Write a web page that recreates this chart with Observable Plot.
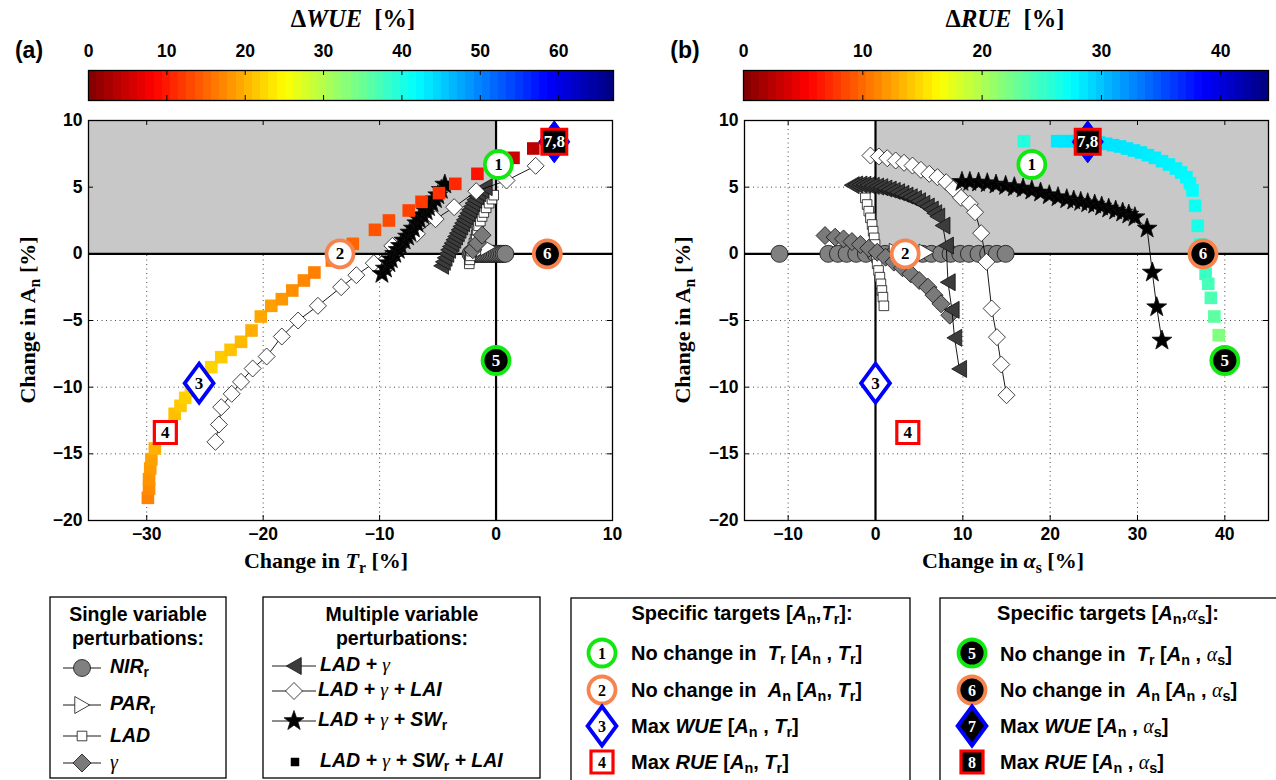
<!DOCTYPE html>
<html><head><meta charset="utf-8">
<script src="https://cdn.jsdelivr.net/npm/d3@7"></script>
<script src="https://cdn.jsdelivr.net/npm/@observablehq/plot@0.6"></script>
<style>
body{margin:0;background:#fff;}
#wrap{position:relative;width:1276px;height:780px;overflow:hidden;background:#fff;}
#wrap svg{position:absolute;}
.t{position:absolute;white-space:nowrap;line-height:1;}
.serif{font-family:"Liberation Serif","Times New Roman",serif;font-weight:bold;}
.sans{font-family:"Liberation Sans",Arial,sans-serif;font-weight:bold;}
.g{font-family:"Liberation Serif","Times New Roman",serif;font-style:italic;font-weight:normal;}
sub{font-size:72%;vertical-align:-0.3em;line-height:0;font-style:normal;}
</style></head>
<body><div id="wrap"></div>
<script>
// ================= DATA =================
const yDomain = [-20, 10];
const yTicks = [-20, -15, -10, -5, 0, 5, 10];
const xDomainA = [-35, 10];
const xTicksA = [-30, -20, -10, 0, 10];
const xDomainB = [-15, 45];
const xTicksB = [-10, 0, 10, 20, 30, 40];
const cbMaxA = 67, cbTicksA = [0, 10, 20, 30, 40, 50, 60];
const cbMaxB = 44, cbTicksB = [0, 10, 20, 30, 40];
const shadeA = [{x1: -35, x2: 0, y1: 0, y2: 10}];
const shadeB = [{x1: 0, x2: 45, y1: 0, y2: 10}];

// Panel (a): [change in Tr, change in An]
const aNIR = [[-2.2,0],[-2.05,0],[-1.9,0],[-1.75,0],[-1.6,0],[-1.45,0],[-1.3,0],[-1.15,0],[-1.0,0],[-0.85,0],[-0.7,0],[-0.55,0],[-0.4,0],[-0.25,0],[-0.1,0],[0.05,0],[0.2,0],[0.35,0],[0.5,0],[0.65,0],[0.8,0]];
const aPAR = [[-1.5,0.25],[-1.1,0.4],[-0.7,0.5]];
const aLAD = [[-2.3,-0.75],[-2.25,-0.45],[-2.2,-0.15],[-2.1,0.2],[-2.0,0.5],[-1.9,0.8],[-1.8,1.1],[-1.7,1.45],[-1.6,1.75],[-1.5,2.1],[-1.35,2.45],[-1.2,2.8],[-1.05,3.1],[-0.85,3.45],[-0.6,3.8],[-0.35,4.1],[-0.2,4.4]];
const aGAM = [[-2.0,0.3],[-1.6,0.8],[-1.2,1.4]];
const aLADG = [[-4.7,-0.9],[-4.55,-0.6],[-4.4,-0.3],[-4.25,0.0],[-4.1,0.3],[-3.95,0.55],[-3.8,0.8],[-3.65,1.05],[-3.5,1.3],[-3.35,1.55],[-3.2,1.8],[-3.05,2.05],[-2.9,2.3],[-2.75,2.55],[-2.6,2.8],[-2.45,3.05],[-2.3,3.3],[-2.15,3.55],[-2.0,3.8],[-1.85,4.05],[-1.7,4.3],[-1.5,4.55],[-1.25,4.8],[-0.95,5.0]];
const aLAI = [[-24.1,-14.1],[-23.8,-12.8],[-23.6,-11.5],[-22.7,-10.5],[-21.9,-9.6],[-20.9,-8.6],[-19.7,-7.7],[-18.4,-6.2],[-17.0,-5.0],[-15.3,-3.9],[-13.3,-2.5],[-12.0,-1.6],[-10.5,-0.7],[-8.9,0.6],[-6.8,1.5],[-5.2,2.6],[-3.6,3.5],[-1.7,4.7],[0.9,5.5],[3.4,6.6]];
const aSW = [[-9.8,-1.5],[-9.5,-1.1],[-9.2,-0.7],[-9.0,-0.4],[-8.7,0.0],[-8.4,0.3],[-8.2,0.6],[-7.9,1.0],[-7.6,1.3],[-7.4,1.6],[-7.1,1.9],[-6.8,2.3],[-6.6,2.6],[-6.3,2.9],[-6.0,3.2],[-5.8,3.5],[-5.5,3.8],[-5.2,4.1],[-5.0,4.4],[-4.7,4.8],[-4.4,5.2]];
// [change in Tr, change in An, ΔWUE]
const aALL = [[-29.9,-18.3,17],[-29.8,-17.6,17.5],[-29.8,-16.9,18],[-29.7,-16.1,18.5],[-29.6,-15.4,19],[-29.3,-14.6,20],[-28.6,-13.6,20.5],[-27.6,-12.0,21],[-27.1,-11.4,21.5],[-26.7,-10.8,22],[-26.2,-10.3,22.3],[-25.5,-9.6,22.5],[-24.45,-8.5,22.3],[-23.6,-7.75,21.8],[-22.8,-7.2,21.2],[-21.9,-6.6,20.5],[-21.0,-5.75,19.8],[-20.2,-4.7,19.3],[-19.3,-3.9,18.8],[-18.4,-3.4,18.3],[-17.5,-2.75,17.8],[-16.5,-2.0,17.3],[-15.6,-1.4,16.8],[-14.1,-0.5,16.2],[-13.3,0.1,15.7],[-12.3,0.75,15],[-10.4,1.8,13.8],[-9.2,2.5,13.2],[-7.5,3.25,12.6],[-6.4,3.9,12.1],[-4.9,4.55,11.6],[-3.5,5.25,11],[-1.6,6.0,9.5],[0.0,6.6,7.5],[1.5,7.2,5],[3.2,7.9,4],[5.0,8.4,3]];
const aTargets = [["1",0.2,6.7],["2",-13.4,0],["3",-25.5,-9.7],["4",-28.4,-13.4],["5",0,-8.0],["6",4.4,0],["7,8",5.0,8.4]];

// Panel (b): [change in albedo, change in An]
const bNIR = [[-11.0,0],[-5.4,0],[-4.3,0],[-3.3,0],[-2.2,0],[-1.1,0],[0,0],[1.1,0],[2.2,0],[3.2,0],[4.3,0],[5.4,0],[6.4,0],[7.5,0],[8.6,0],[9.7,0],[10.7,0],[11.8,0],[12.9,0],[13.9,0],[14.9,0]];
const bPAR = [[2.4,0.15],[4.1,0.12],[5.8,0.1]];
const bLAD = [[-1.16,4.2],[-0.96,3.7],[-0.77,3.2],[-0.58,2.7],[-0.39,2.2],[-0.27,1.7],[-0.15,1.2],[-0.05,0.7],[0.05,0.2],[0.12,-0.3],[0.19,-0.75],[0.35,-1.25],[0.5,-1.75],[0.62,-2.25],[0.73,-2.75],[0.85,-3.25],[0.96,-3.9]];
const bGAM = [[-5.78,1.37],[-4.62,1.25],[-3.66,1.12],[-2.7,0.92],[-1.73,0.7],[-0.77,0.42],[0.19,0.12],[1.16,-0.25],[2.1,-0.62],[3.1,-1.05],[4.05,-1.5],[5.0,-2.0],[6.0,-2.5],[6.7,-3.1],[7.5,-3.75],[8.5,-4.6]];
const bLADG = [[-2.7,5.15],[-2.3,5.2],[-1.8,5.2],[-1.35,5.18],[-0.9,5.15],[-0.4,5.1],[0.1,5.05],[0.58,5.0],[1.05,4.9],[1.54,4.82],[2.0,4.72],[2.5,4.62],[3.0,4.5],[3.47,4.37],[3.95,4.25],[4.43,4.12],[4.9,3.95],[5.4,3.75],[5.9,3.55],[6.36,3.32],[6.75,3.05],[7.1,2.8],[7.7,2.12],[8.1,0.62],[8.3,-2.13],[8.75,-4.2],[9.05,-6.3],[9.6,-8.63]];
const bLAI = [[-0.58,7.37],[0.39,7.3],[1.35,7.17],[2.31,7.0],[3.27,6.83],[4.24,6.62],[5.2,6.3],[6.16,6.0],[7.1,5.75],[8.1,5.37],[8.9,4.87],[9.8,4.2],[10.8,3.75],[11.4,3.12],[12.1,1.55],[12.7,-0.6],[13.3,-4.1],[13.9,-6.25],[14.4,-8.3],[15.0,-10.6]];
const bSW = [[9.9,5.4],[10.8,5.4],[11.8,5.35],[12.8,5.3],[13.8,5.2],[14.9,5.1],[15.9,5.0],[16.9,4.9],[17.9,4.75],[18.9,4.6],[19.9,4.4],[20.9,4.25],[21.9,4.1],[22.7,4.0],[23.5,3.9],[24.3,3.8],[25.1,3.7],[25.9,3.55],[26.7,3.4],[27.5,3.25],[28.3,3.1],[29.0,2.95],[29.7,2.75],[31.1,1.9],[31.7,-1.4],[32.2,-4.0],[32.8,-6.5]];
// [change in albedo, change in An, ΔRUE]
const bALL = [[17.0,8.45,26],[20.8,8.45,28.4],[21.6,8.45,28.5],[22.4,8.45,28.6],[23.2,8.45,28.7],[24.0,8.42,28.8],[24.8,8.4,28.8],[25.6,8.35,28.7],[26.4,8.25,28.7],[27.2,8.15,28.6],[28.0,8.05,28.6],[28.8,7.9,28.5],[29.6,7.75,28.5],[30.4,7.6,28.4],[31.2,7.4,28.3],[32.0,7.2,28.2],[32.8,6.95,28.1],[33.6,6.7,28],[34.4,6.4,27.9],[35.0,6.1,27.8],[35.6,5.75,27.7],[36.0,5.3,27.6],[36.3,4.75,27.4],[36.6,3.6,27],[36.9,2.1,26.5],[37.2,0.7,26],[37.5,-0.5,25.5],[37.8,-1.5,25],[38.1,-2.25,24.5],[38.4,-3.3,24.2],[38.8,-4.7,23.5],[39.3,-6.1,22]];
const bTargets = [["1",17.9,6.7],["2",3.4,0],["3",0,-9.7],["4",3.7,-13.4],["5",40.0,-8.0],["6",37.5,0],["7,8",24.3,8.4]];

// ================= STYLE =================
const GREEN = "#10e810", ORANGE = "#f7844f", BLUE = "#0000ff", RED = "#ff0000";
const SANS = '"Liberation Sans", Arial, sans-serif', SERIF = '"Liberation Serif", "Times New Roman", serif';
const rad = s => Math.sqrt(s / Math.PI);
const diamondSq = {draw(c, s) {const r = rad(s); c.moveTo(0,-r); c.lineTo(r,0); c.lineTo(0,r); c.lineTo(-r,0); c.closePath();}};
const diamondTall = {draw(c, s) {const r = rad(s), w = 0.74*r; c.moveTo(0,-r); c.lineTo(w,0); c.lineTo(0,r); c.lineTo(-w,0); c.closePath();}};
const triLeft = {draw(c, s) {const r = rad(s); c.moveTo(-0.9*r,0); c.lineTo(0.85*r,-r); c.lineTo(0.85*r,r); c.closePath();}};
const triRight = {draw(c, s) {const r = rad(s); c.moveTo(0.9*r,0); c.lineTo(-0.85*r,-r); c.lineTo(-0.85*r,r); c.closePath();}};
const square = {draw(c, s) {const r = rad(s); c.moveTo(-r,-r); c.lineTo(r,-r); c.lineTo(r,r); c.lineTo(-r,r); c.closePath();}};
const star = {draw(c, s) {const R = rad(s), ri = R*0.4; for (let i = 0; i < 10; i++) {const a = -Math.PI/2 + i*Math.PI/5, q = i % 2 ? ri : R; const x = q*Math.cos(a), y = q*Math.sin(a); if (i) c.lineTo(x,y); else c.moveTo(x,y);} c.closePath();}};
const circle = {draw(c, s) {const r = rad(s); c.moveTo(r,0); c.arc(0,0,r,0,2*Math.PI); c.closePath();}};

const ST = {
  NIR: {symbol: circle, r: 8.5, fill: "#808080"},
  PAR: {symbol: triRight, r: 8.5, fill: "white"},
  LAD: {symbol: square, r: 4.8, fill: "white"},
  GAM: {symbol: diamondSq, r: 9, fill: "#7a7a7a"},
  LADG: {symbol: triLeft, r: 8.5, fill: "#3c3c3c"},
  LAI: {symbol: diamondSq, r: 8.5, fill: "white"},
  SW: {symbol: star, r: 10.5, fill: "black"}
};
const TS = {
  "1": {layers: [{symbol: circle, r: 13.5, fill: "white", stroke: GREEN, sw: 3.8}], label: "black"},
  "2": {layers: [{symbol: circle, r: 13.5, fill: "white", stroke: ORANGE, sw: 3.8}], label: "black"},
  "3": {layers: [{symbol: diamondTall, r: 19.5, fill: "white", stroke: BLUE, sw: 3.8}], label: "black"},
  "4": {layers: [{symbol: square, r: 11, fill: "white", stroke: RED, sw: 3.2}], label: "black"},
  "5": {layers: [{symbol: circle, r: 13.5, fill: "black", stroke: GREEN, sw: 3.8}], label: "white"},
  "6": {layers: [{symbol: circle, r: 13.5, fill: "black", stroke: ORANGE, sw: 3.8}], label: "white"},
  "7": {layers: [{symbol: diamondTall, r: 19.5, fill: "black", stroke: BLUE, sw: 3.8}], label: "white"},
  "8": {layers: [{symbol: square, r: 11, fill: "black", stroke: RED, sw: 3.2}], label: "white"},
  "7,8": {layers: [{symbol: diamondTall, r: 21, fill: BLUE, stroke: BLUE, sw: 1}, {symbol: square, r: 12.5, fill: "black", stroke: RED, sw: 3}], label: "white"}
};

function jet(t) {
  const c = v => Math.max(0, Math.min(1, v));
  const r = c(Math.min(4*t - 1.5, -4*t + 4.5)), g = c(Math.min(4*t - 0.5, -4*t + 3.5)), b = c(Math.min(4*t + 0.5, -4*t + 2.5));
  return d3.rgb(r*255, g*255, b*255).formatHex();
}
const jetRev = t => jet(1 - t);

const wrap = document.getElementById("wrap");
function place(node, left, top) { node.style.left = left + "px"; node.style.top = top + "px"; wrap.appendChild(node); }
function txt(html, x, y, cls, anchor = "c", extra = {}) {
  const el = document.createElement("div");
  el.className = "t " + cls;
  el.innerHTML = html;
  el.style.left = x + "px"; el.style.top = y + "px";
  el.style.transform = anchor === "c" ? "translate(-50%,-50%)" : anchor === "l" ? "translate(0,-50%)" : "translate(-50%,-50%) rotate(-90deg)";
  Object.assign(el.style, extra);
  wrap.appendChild(el);
}

// ================= PANELS =================
function panel({w, ml, mr, xDomain, xTicks, shade, S, cmax, targets}) {
  const H = 480, mt = 20, mb = 60, fw = w - ml - mr, fh = H - mt - mb;
  const X = p => p[0], Y = p => p[1];
  const series = (data, st) => [
    Plot.line(data, {x: X, y: Y, stroke: "black", strokeWidth: 0.9}),
    Plot.dot(data, {x: X, y: Y, symbol: st.symbol, r: st.r, fill: st.fill, stroke: "#111", strokeWidth: 0.8})
  ];
  const tmarks = [];
  for (const t of targets) {
    const st = TS[t[0]];
    for (const L of st.layers) tmarks.push(Plot.dot([t], {x: p => p[1], y: p => p[2], symbol: L.symbol, r: L.r, fill: L.fill, stroke: L.stroke, strokeWidth: L.sw}));
    tmarks.push(Plot.text([t], {x: p => p[1], y: p => p[2], text: p => p[0], fill: st.label, fontFamily: SERIF, fontWeight: "bold", fontSize: 17}));
  }
  const grid = {stroke: "#333", strokeOpacity: 1, strokeWidth: 0.9, strokeDasharray: "1,3.5"};
  return Plot.plot({
    width: w, height: H, marginTop: mt, marginRight: mr, marginBottom: mb, marginLeft: ml,
    x: {domain: xDomain}, y: {domain: yDomain},
    color: {type: "linear", domain: [0, cmax], interpolate: jetRev},
    style: {fontFamily: SANS, fontSize: "17.5px", fontWeight: "bold", background: "transparent", overflow: "visible", color: "black"},
    marks: [
      Plot.gridX(xTicks, grid),
      Plot.gridY(yTicks, grid),
      Plot.rect(shade, {x1: "x1", x2: "x2", y1: "y1", y2: "y2", fill: "#c8c8c8"}),
      Plot.ruleX([0], {stroke: "black", strokeWidth: 2.2}),
      Plot.ruleY([0], {stroke: "black", strokeWidth: 2.2}),
      ...series(S.NIR, ST.NIR),
      ...series(S.PAR, ST.PAR),
      ...series(S.LAD, ST.LAD),
      ...series(S.GAM, ST.GAM),
      ...series(S.LADG, ST.LADG),
      ...series(S.LAI, ST.LAI),
      ...series(S.SW, ST.SW),
      Plot.dot(S.ALL, {x: p => p[0], y: p => p[1], symbol: square, r: 6.3, fill: p => p[2]}),
      ...tmarks,
      Plot.frame({stroke: "black", strokeWidth: 1.3}),
      Plot.tickX(xTicks, {x: d => d, insetTop: fh - 5, stroke: "black"}),
      Plot.tickX(xTicks, {x: d => d, insetBottom: fh - 5, stroke: "black"}),
      Plot.tickY(yTicks, {y: d => d, insetRight: fw - 5, stroke: "black"}),
      Plot.tickY(yTicks, {y: d => d, insetLeft: fw - 5, stroke: "black"}),
      Plot.axisX(xTicks, {tickSize: 0, tickPadding: 7, label: null}),
      Plot.axisY(yTicks, {tickSize: 0, tickPadding: 6, label: null})
    ]
  });
}

function colorbar({w, ml, mr, cmax, ticks}) {
  const n = 64;
  const bands = d3.range(n).map(i => [i * cmax / n, (i + 1) * cmax / n]);
  return Plot.plot({
    width: w, height: 72, marginTop: 40, marginBottom: 2, marginLeft: ml, marginRight: mr,
    x: {domain: [0, cmax]}, y: {domain: [0, 1], axis: null},
    color: {type: "linear", domain: [0, cmax], interpolate: jetRev},
    style: {fontFamily: SANS, fontSize: "17.5px", fontWeight: "bold", background: "transparent", overflow: "visible", color: "black"},
    marks: [
      Plot.rect(bands, {x1: b => b[0], x2: b => b[1] + cmax / 2000, y1: 0, y2: 1, fill: b => (b[0] + b[1]) / 2, shapeRendering: "crispEdges"}),
      Plot.frame({stroke: "black", strokeWidth: 1.3}),
      Plot.tickX(ticks, {x: d => d, insetTop: 25, stroke: "black"}),
      Plot.tickX(ticks, {x: d => d, insetBottom: 25, stroke: "black"}),
      Plot.axisX(ticks, {anchor: "top", tickSize: 0, tickPadding: 14, label: null})
    ]
  });
}

const SA = {NIR: aNIR, PAR: aPAR, LAD: aLAD, GAM: aGAM, LADG: aLADG, LAI: aLAI, SW: aSW, ALL: aALL};
const SB = {NIR: bNIR, PAR: bPAR, LAD: bLAD, GAM: bGAM, LADG: bLADG, LAI: bLAI, SW: bSW, ALL: bALL};

place(colorbar({w: 640, ml: 88, mr: 27, cmax: cbMaxA, ticks: cbTicksA}), 0, 30);
place(colorbar({w: 636, ml: 103, mr: 8, cmax: cbMaxB, ticks: cbTicksB}), 640, 30);
place(panel({w: 640, ml: 88, mr: 28, xDomain: xDomainA, xTicks: xTicksA, shade: shadeA, S: SA, cmax: cbMaxA, targets: aTargets}), 0, 100);
place(panel({w: 636, ml: 104, mr: 8, xDomain: xDomainB, xTicks: xTicksB, shade: shadeB, S: SB, cmax: cbMaxB, targets: bTargets}), 640, 100);

// titles & axis labels
txt("&Delta;<i>WUE</i>&nbsp;&nbsp;[%]", 353, 19, "serif", "c", {fontSize: "24.5px"});
txt("&Delta;<i>RUE</i>&nbsp;&nbsp;[%]", 1005, 19, "serif", "c", {fontSize: "24.5px"});
txt("(a)", 29, 50, "sans", "c", {fontSize: "23px"});
txt("(b)", 685, 50, "sans", "c", {fontSize: "23px"});
txt("Change in A<sub>n</sub> [%]", 28, 320, "serif", "r", {fontSize: "22px"});
txt("Change in A<sub>n</sub> [%]", 683, 320, "serif", "r", {fontSize: "22px"});
txt("Change in <i>T</i><sub>r</sub> [%]", 326, 561, "serif", "c", {fontSize: "22px"});
txt("Change in <i>&alpha;</i><sub>s</sub> [%]", 1003, 561, "serif", "c", {fontSize: "22px"});

// ================= LEGENDS =================
const leg = d3.create("svg").attr("width", 1276).attr("height", 190);
const boxes = [[50, 7, 176, 181], [263, 7, 277, 181], [571, 8, 339, 190], [940, 8, 345, 190]];
for (const [x, y, w, h] of boxes) leg.append("rect").attr("x", x).attr("y", y).attr("width", w).attr("height", h).attr("fill", "white").attr("stroke", "black").attr("stroke-width", 1.3);
const sym = (st, x, y, line) => {
  if (line) leg.append("line").attr("x1", line[0]).attr("x2", line[1]).attr("y1", y).attr("y2", y).attr("stroke", "black").attr("stroke-width", 0.9);
  leg.append("path").attr("d", d3.symbol(st.symbol, Math.PI * st.r * st.r)()).attr("transform", `translate(${x},${y})`)
    .attr("fill", st.fill).attr("stroke", st.stroke || "#111").attr("stroke-width", st.sw || 0.8);
};
// box 1
const b1y = [668, 705, 736, 763].map(v => v - 590);
[ST.NIR, ST.PAR, ST.LAD, ST.GAM].forEach((st, i) => sym(st, 82, b1y[i], [63, 101]));
// box 2
const b2y = [666, 691, 721, 762].map(v => v - 590);
[ST.LADG, ST.LAI, ST.SW].forEach((st, i) => sym(st, 294, b2y[i], [272, 316]));
sym({symbol: square, r: 4, fill: "black", stroke: "black", sw: 0.5}, 295, b2y[3]);
// box 3 & 4
const b3y = [653, 690, 726, 762].map(v => v - 590);
const legT = (id, x, y) => {
  const st = TS[id];
  for (const L of st.layers) sym({symbol: L.symbol, r: L.r, fill: L.fill, stroke: L.stroke, sw: L.sw}, x, y);
  leg.append("text").attr("x", x).attr("y", y).attr("dy", "0.35em").attr("text-anchor", "middle")
    .attr("font-family", SERIF).attr("font-weight", "bold").attr("font-size", 16).attr("fill", st.label).text(id);
};
["1", "2", "3", "4"].forEach((id, i) => legT(id, 602, b3y[i]));
["5", "6", "7", "8"].forEach((id, i) => legT(id, 972, b3y[i]));
place(leg.node(), 0, 590);

// legend text
txt("Single variable<br>perturbations:", 138, 626, "sans", "c", {fontSize: "19.5px", lineHeight: "24px", textAlign: "center"});
txt("<i>NIR</i><sub>r</sub>", 110, 667, "sans", "l", {fontSize: "19.5px"});
txt("<i>PAR</i><sub>r</sub>", 110, 704, "sans", "l", {fontSize: "19.5px"});
txt("<i>LAD</i>", 110, 736, "sans", "l", {fontSize: "19.5px"});
txt("<span class='g'>&gamma;</span>", 110, 762, "sans", "l", {fontSize: "20px"});

txt("Multiple variable<br>perturbations:", 402, 626, "sans", "c", {fontSize: "19.5px", lineHeight: "24px", textAlign: "center"});
txt("<i>LAD + <span class='g'>&gamma;</span></i>", 320, 665, "sans", "l", {fontSize: "19.5px"});
txt("<i>LAD + <span class='g'>&gamma;</span> + LAI</i>", 318, 690, "sans", "l", {fontSize: "19.5px"});
txt("<i>LAD + <span class='g'>&gamma;</span> + SW</i><sub>r</sub>", 318, 720, "sans", "l", {fontSize: "19.5px"});
txt("<i>LAD + <span class='g'>&gamma;</span> + SW</i><sub>r</sub><i> + LAI</i>", 320, 761, "sans", "l", {fontSize: "19.5px"});

txt("Specific targets [<i>A</i><sub>n</sub>,<i>T</i><sub>r</sub>]:", 742, 613, "sans", "c", {fontSize: "20px"});
txt("No change in&nbsp; <i>T</i><sub>r</sub> [<i>A</i><sub>n</sub> , <i>T</i><sub>r</sub>]", 631, 653, "sans", "l", {fontSize: "20px"});
txt("No change in&nbsp; <i>A</i><sub>n</sub> [<i>A</i><sub>n</sub>, <i>T</i><sub>r</sub>]", 631, 690, "sans", "l", {fontSize: "20px"});
txt("Max <i>WUE</i> [<i>A</i><sub>n</sub> , <i>T</i><sub>r</sub>]", 631, 726, "sans", "l", {fontSize: "20px"});
txt("Max <i>RUE</i> [<i>A</i><sub>n</sub>, <i>T</i><sub>r</sub>]", 631, 762, "sans", "l", {fontSize: "20px"});

txt("Specific targets [<i>A</i><sub>n</sub>,<span class='g'>&alpha;</span><sub>s</sub>]:", 1108, 613, "sans", "c", {fontSize: "20px"});
txt("No change in&nbsp; <i>T</i><sub>r</sub> [<i>A</i><sub>n</sub> , <span class='g'>&alpha;</span><sub>s</sub>]", 1000, 654, "sans", "l", {fontSize: "20px"});
txt("No change in&nbsp; <i>A</i><sub>n</sub> [<i>A</i><sub>n</sub> , <span class='g'>&alpha;</span><sub>s</sub>]", 1000, 690, "sans", "l", {fontSize: "20px"});
txt("Max <i>WUE</i> [<i>A</i><sub>n</sub> , <span class='g'>&alpha;</span><sub>s</sub>]", 1000, 726, "sans", "l", {fontSize: "20px"});
txt("Max <i>RUE</i> [<i>A</i><sub>n</sub> , <span class='g'>&alpha;</span><sub>s</sub>]", 1000, 762, "sans", "l", {fontSize: "20px"});
</script>
</body></html>
